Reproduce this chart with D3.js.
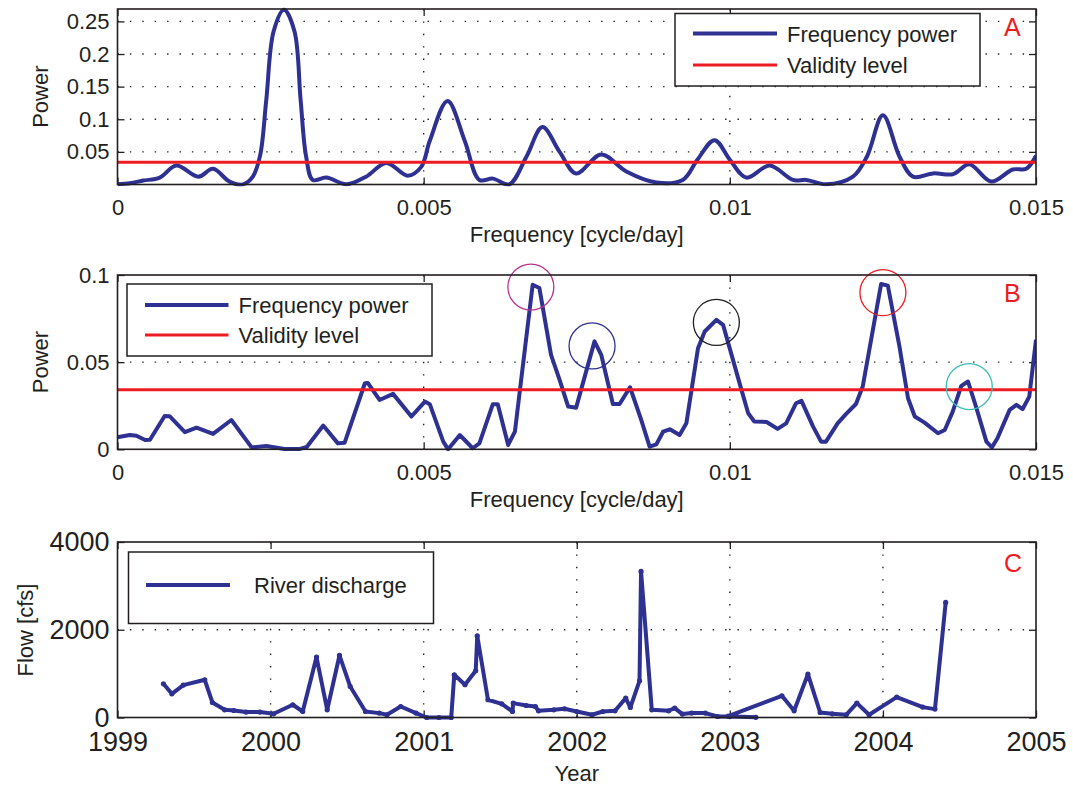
<!DOCTYPE html>
<html>
<head>
<meta charset="utf-8">
<script src="https://cdn.jsdelivr.net/npm/d3@7"></script>
<style>
body { margin: 0; background: #fff; }
text { font-family: "Liberation Sans", Arial, Helvetica, sans-serif; fill: #231f20; }
</style>
</head>
<body>
<div id="chart"></div>
<script>
// ---- data ----
var freqA  = [0, 0.0002, 0.00042, 0.00069, 0.00096, 0.00132, 0.00156, 0.00183, 0.00205, 0.00221, 0.00233, 0.00243, 0.00255, 0.00272, 0.00289, 0.00299, 0.00308, 0.00319, 0.00341, 0.00374, 0.00406, 0.00439, 0.00474, 0.00496, 0.0051, 0.00539, 0.00567, 0.00591, 0.00613, 0.0064, 0.00668, 0.00694, 0.00722, 0.00749, 0.0079, 0.00831, 0.0088, 0.00923, 0.00947, 0.00975, 0.01, 0.01027, 0.01065, 0.01103, 0.01125, 0.01157, 0.01201, 0.01224, 0.0125, 0.01277, 0.01299, 0.01332, 0.01365, 0.01391, 0.01427, 0.01462, 0.01484, 0.015];
var powerA = [0.0005, 0.002, 0.006, 0.0106, 0.029, 0.012, 0.024, 0.0045, 0.0002, 0.012, 0.045, 0.13, 0.235, 0.268, 0.235, 0.13, 0.043, 0.007, 0.0106, 0.0003, 0.012, 0.033, 0.0135, 0.027, 0.067, 0.128, 0.067, 0.007, 0.009, 0.0003, 0.043, 0.088, 0.05, 0.017, 0.046, 0.02, 0.003, 0.007, 0.038, 0.068, 0.038, 0.0106, 0.029, 0.007, 0.007, 0.0003, 0.012, 0.043, 0.106, 0.043, 0.012, 0.017, 0.016, 0.031, 0.0045, 0.023, 0.024, 0.044];

var freqB  = [0, 0.0002, 0.00031, 0.00045, 0.00053, 0.00077, 0.00085, 0.0011, 0.00129, 0.00156, 0.00186, 0.00219, 0.00243, 0.00273, 0.00298, 0.00309, 0.00336, 0.0036, 0.00371, 0.00404, 0.00409, 0.00428, 0.0045, 0.0048, 0.00502, 0.0051, 0.00532, 0.0054, 0.00559, 0.0058, 0.00591, 0.00613, 0.00621, 0.00638, 0.00649, 0.00678, 0.00689, 0.00708, 0.00722, 0.00736, 0.00749, 0.00779, 0.0079, 0.00809, 0.0082, 0.00837, 0.00855, 0.00869, 0.0088, 0.00891, 0.00902, 0.00918, 0.00929, 0.00948, 0.00959, 0.00978, 0.00989, 0.01019, 0.0103, 0.0104, 0.0106, 0.01078, 0.01092, 0.01108, 0.01117, 0.01136, 0.01149, 0.01157, 0.01176, 0.0119, 0.01206, 0.01217, 0.01247, 0.01258, 0.01277, 0.01291, 0.01302, 0.01318, 0.0134, 0.01351, 0.01364, 0.01378, 0.01389, 0.01402, 0.01419, 0.01428, 0.01437, 0.01457, 0.01468, 0.01478, 0.01489, 0.015];
var powerB = [0.0069, 0.0082, 0.0078, 0.0053, 0.0055, 0.0191, 0.019, 0.0098, 0.0124, 0.0088, 0.0168, 0.0011, 0.0019, 0.0002, 0.0002, 0.0013, 0.0136, 0.0034, 0.0038, 0.0379, 0.038, 0.0283, 0.0318, 0.0188, 0.0274, 0.0259, 0.0044, 0.0, 0.0082, 0.0006, 0.0034, 0.0259, 0.0259, 0.0025, 0.0101, 0.0944, 0.0925, 0.0542, 0.0398, 0.0245, 0.0239, 0.0619, 0.0542, 0.026, 0.026, 0.0356, 0.0172, 0.0015, 0.0028, 0.0101, 0.0115, 0.0082, 0.0149, 0.058, 0.0676, 0.0743, 0.0714, 0.0341, 0.0207, 0.0159, 0.0157, 0.0117, 0.0149, 0.0264, 0.0278, 0.013, 0.0044, 0.0044, 0.0149, 0.0203, 0.026, 0.036, 0.0948, 0.0939, 0.059, 0.0293, 0.0188, 0.0153, 0.0092, 0.0111, 0.0216, 0.0364, 0.0389, 0.0245, 0.0044, 0.0011, 0.0063, 0.0226, 0.0255, 0.023, 0.0302, 0.0628];

var validity = 0.0341;

// highlighted peaks in panel B
var peakFreq   = [0.00675, 0.00775, 0.00978, 0.0125, 0.01391];
var peakPower  = [0.0931, 0.0593, 0.0728, 0.0899, 0.036];
var peakColors = ["#b8338f", "#2e3192", "#231f20", "#ed1c24", "#3cbdb6"];

var years = [1999.30, 1999.355, 1999.43, 1999.57, 1999.62, 1999.70, 1999.76, 1999.84, 1999.93, 2000.02, 2000.145, 2000.21, 2000.30, 2000.37, 2000.45, 2000.52, 2000.62, 2000.71, 2000.76, 2000.85, 2000.95, 2001.02, 2001.10, 2001.18, 2001.20, 2001.27, 2001.34, 2001.35, 2001.42, 2001.51, 2001.58, 2001.585, 2001.67, 2001.73, 2001.75, 2001.85, 2001.92, 2002.0, 2002.10, 2002.17, 2002.25, 2002.32, 2002.35, 2002.41, 2002.42, 2002.49, 2002.60, 2002.64, 2002.69, 2002.75, 2002.84, 2002.92, 2003.0, 2003.17, 2002.99, 2003.34, 2003.42, 2003.51, 2003.59, 2003.67, 2003.76, 2003.83, 2003.91, 2004.09, 2004.26, 2004.34, 2004.41];
var flow  = [768, 540, 739, 860, 342, 176, 160, 123, 123, 84, 290, 137, 1377, 176, 1414, 707, 137, 100, 62, 251, 100, 0, 0, 0, 974, 746, 1065, 1863, 404, 312, 137, 328, 274, 251, 153, 176, 198, 137, 62, 137, 153, 442, 228, 837, 3329, 176, 153, 214, 78, 100, 100, 23, 20, 5, 30, 495, 153, 989, 114, 84, 62, 328, 62, 465, 237, 191, 2622];

var freqTicks = [0, 0.005, 0.01, 0.015];
var freqTickLabels = ["0", "0.005", "0.01", "0.015"];
var powerTicksA = [0.05, 0.1, 0.15, 0.2, 0.25];
var powerTickLabelsA = ["0.05", "0.1", "0.15", "0.2", "0.25"];
var powerTicksB = [0, 0.05, 0.1];
var powerTickLabelsB = ["0", "0.05", "0.1"];
var yearTicks = [1999, 2000, 2001, 2002, 2003, 2004, 2005];
var flowTicks = [0, 2000, 4000];

// ---- layout ----
var wd = 1073, ht = 787;
var left = 117.5, right = 1036;
var blue = "#2e3192", red = "#ed1c24", ink = "#231f20";

var svg = d3.select("#chart").append("svg").attr("width", wd).attr("height", ht);

function makeAxes(g, xs, ys, xTicks, xLabels, yTicks, yLabels, fs, xPad) {
  var top = ys.range()[1], bottom = ys.range()[0];
  var x0 = xs.range()[0], x1 = xs.range()[1];

  // dotted grid
  g.selectAll(".vgrid").data(xTicks.filter(function(d){ return xs(d) > x0 + 1 && xs(d) < x1 - 1; }))
    .enter().append("line")
    .attr("x1", function(d){ return xs(d); }).attr("x2", function(d){ return xs(d); })
    .attr("y1", top).attr("y2", bottom)
    .attr("stroke", ink).attr("stroke-width", 1.4).attr("stroke-dasharray", "1.4,11");
  g.selectAll(".hgrid").data(yTicks.filter(function(d){ return ys(d) > top + 1 && ys(d) < bottom - 1; }))
    .enter().append("line")
    .attr("y1", function(d){ return ys(d); }).attr("y2", function(d){ return ys(d); })
    .attr("x1", x0).attr("x2", x1)
    .attr("stroke", ink).attr("stroke-width", 1.4).attr("stroke-dasharray", "1.4,11");

  var style = function(a) {
    a.attr("color", ink);
    a.select(".domain").remove();
    a.selectAll(".tick line").attr("stroke-width", 1.3);
    a.selectAll("text").style("font-size", fs + "px");
  };

  g.append("g").attr("transform", "translate(0," + bottom + ")")
    .call(d3.axisBottom(xs).tickValues(xTicks).tickFormat(function(d, i){ return xLabels[i]; })
      .tickSizeInner(-7).tickSizeOuter(0).tickPadding(xPad)).call(style);
  g.append("g").attr("transform", "translate(0," + top + ")")
    .call(d3.axisTop(xs).tickValues(xTicks).tickFormat("").tickSizeInner(-7).tickSizeOuter(0)).call(style);
  g.append("g").attr("transform", "translate(" + x0 + ",0)")
    .call(d3.axisLeft(ys).tickValues(yTicks).tickFormat(function(d, i){ return yLabels[i]; })
      .tickSizeInner(-7).tickSizeOuter(0).tickPadding(8)).call(style);
  g.append("g").attr("transform", "translate(" + x1 + ",0)")
    .call(d3.axisRight(ys).tickValues(yTicks).tickFormat("").tickSizeInner(-7).tickSizeOuter(0)).call(style);
}

function frame(g, xs, ys) {
  g.append("rect")
    .attr("x", xs.range()[0]).attr("y", ys.range()[1])
    .attr("width", xs.range()[1] - xs.range()[0]).attr("height", ys.range()[0] - ys.range()[1])
    .attr("fill", "none").attr("stroke", ink).attr("stroke-width", 1.6);
}

function clip(id, xs, ys) {
  svg.append("clipPath").attr("id", id).append("rect")
    .attr("x", xs.range()[0]).attr("y", ys.range()[1] - 2)
    .attr("width", xs.range()[1] - xs.range()[0]).attr("height", ys.range()[0] - ys.range()[1] + 4);
}

function legend(g, x, y, w, h, entries, lineX0, lineX1, textX) {
  var lg = g.append("g");
  lg.append("rect").attr("x", x).attr("y", y).attr("width", w).attr("height", h)
    .attr("fill", "#fff").attr("stroke", ink).attr("stroke-width", 1.5);
  entries.forEach(function(e) {
    lg.append("line").attr("x1", lineX0).attr("x2", lineX1).attr("y1", e.y).attr("y2", e.y)
      .attr("stroke", e.color).attr("stroke-width", e.width);
    lg.append("text").attr("x", textX).attr("y", e.y + 8).style("font-size", "22px").text(e.label);
  });
}

function yTitle(g, x, cy, label) {
  g.append("text").attr("transform", "translate(" + x + "," + cy + ") rotate(-90)")
    .attr("text-anchor", "middle").style("font-size", "22px").text(label);
}
function xTitle(g, y, label) {
  g.append("text").attr("x", (left + right) / 2).attr("y", y)
    .attr("text-anchor", "middle").style("font-size", "22px").text(label);
}
function letter(g, y, label) {
  g.append("text").attr("x", 1004).attr("y", y).style("font-size", "25px").style("fill", red).text(label);
}

// ---- panel A ----
var gA = svg.append("g").attr("class", "panelA");
var xA = d3.scaleLinear().domain([0, 0.015]).range([left, right]);
var yA = d3.scaleLinear().domain([0, 0.269]).range([184.5, 9]);
clip("clipA", xA, yA);
makeAxes(gA, xA, yA, freqTicks, freqTickLabels, powerTicksA, powerTickLabelsA, 22, 15);

var lineA = d3.line().x(function(d, i){ return xA(freqA[i]); }).y(function(d){ return yA(d); }).curve(d3.curveCatmullRom.alpha(0.5));
gA.append("path").datum(powerA).attr("d", lineA).attr("clip-path", "url(#clipA)")
  .attr("fill", "none").attr("stroke", blue).attr("stroke-width", 4).attr("stroke-linejoin", "round");
gA.append("line").attr("x1", left).attr("x2", right).attr("y1", yA(validity)).attr("y2", yA(validity))
  .attr("stroke", red).attr("stroke-width", 3);
frame(gA, xA, yA);
legend(gA, 675, 13.5, 305, 72.5, [
  { label: "Frequency power", color: blue, width: 4, y: 33.5 },
  { label: "Validity level", color: red, width: 3, y: 65 }
], 693, 777, 787);
yTitle(gA, 48, 96.7, "Power");
xTitle(gA, 242, "Frequency [cycle/day]");
letter(gA, 36, "A");

// ---- panel B ----
var gB = svg.append("g").attr("class", "panelB");
var xB = d3.scaleLinear().domain([0, 0.015]).range([left, right]);
var yB = d3.scaleLinear().domain([0, 0.1]).range([449.3, 275]);
clip("clipB", xB, yB);
makeAxes(gB, xB, yB, freqTicks, freqTickLabels, powerTicksB, powerTickLabelsB, 22, 15);

var lineB = d3.line().x(function(d, i){ return xB(freqB[i]); }).y(function(d){ return yB(d); });
gB.append("path").datum(powerB).attr("d", lineB).attr("clip-path", "url(#clipB)")
  .attr("fill", "none").attr("stroke", blue).attr("stroke-width", 4).attr("stroke-linejoin", "round");
gB.append("line").attr("x1", left).attr("x2", right).attr("y1", yB(validity)).attr("y2", yB(validity))
  .attr("stroke", red).attr("stroke-width", 3);
gB.selectAll(".peak").data(peakFreq).enter().append("circle")
  .attr("cx", function(d){ return xB(d); })
  .attr("cy", function(d, i){ return yB(peakPower[i]); })
  .attr("r", 23).attr("fill", "none")
  .attr("stroke", function(d, i){ return peakColors[i]; }).attr("stroke-width", 1.3);
frame(gB, xB, yB);
legend(gB, 127, 284, 305, 72, [
  { label: "Frequency power", color: blue, width: 4, y: 305 },
  { label: "Validity level", color: red, width: 3, y: 335 }
], 145, 228.5, 238.5);
yTitle(gB, 48, 362, "Power");
xTitle(gB, 507, "Frequency [cycle/day]");
letter(gB, 302, "B");

// ---- panel C ----
var gC = svg.append("g").attr("class", "panelC");
var xC = d3.scaleLinear().domain([1999, 2005]).range([left, right]);
var yC = d3.scaleLinear().domain([0, 4000]).range([717.5, 542]);
makeAxes(gC, xC, yC, yearTicks, yearTicks.map(String), flowTicks, flowTicks.map(String), 27, 14);

var lineC = d3.line().x(function(d, i){ return xC(years[i]); }).y(function(d){ return yC(d); });
gC.append("path").datum(flow).attr("d", lineC)
  .attr("fill", "none").attr("stroke", blue).attr("stroke-width", 4).attr("stroke-linejoin", "round");
gC.selectAll(".dot").data(flow).enter().append("circle")
  .attr("cx", function(d, i){ return xC(years[i]); })
  .attr("cy", function(d){ return yC(d); })
  .attr("r", 2.6).attr("fill", blue);
frame(gC, xC, yC);
legend(gC, 128.5, 552, 305, 71.5, [
  { label: "River discharge", color: blue, width: 4, y: 585 }
], 146, 230, 254);
yTitle(gC, 33, 630, "Flow [cfs]");
xTitle(gC, 781, "Year");
letter(gC, 572, "C");
</script>
</body>
</html>
